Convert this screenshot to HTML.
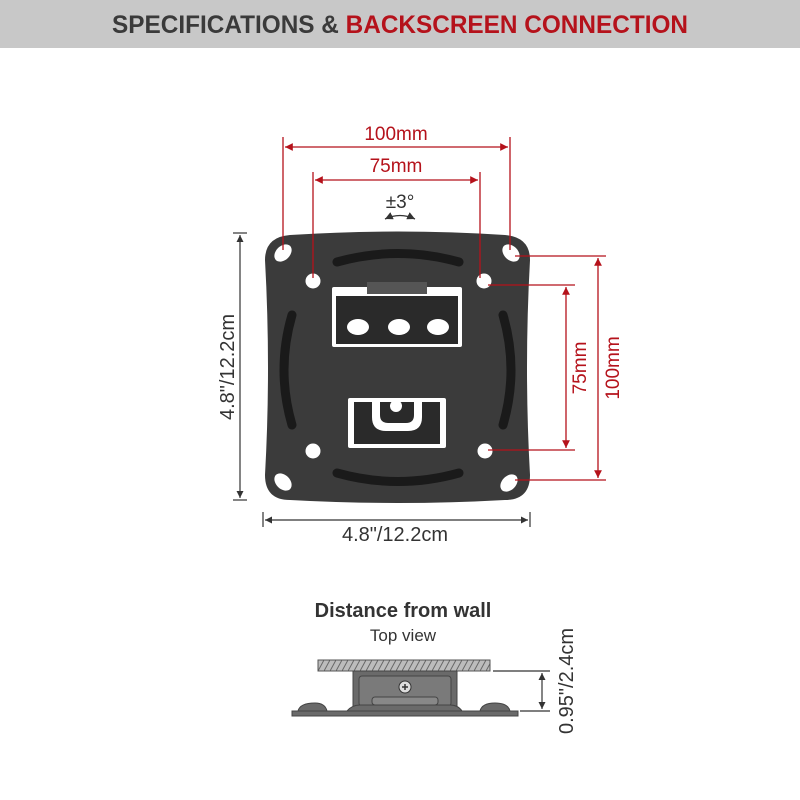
<!DOCTYPE html>
<html><head><style>
body{margin:0;background:#fff}
svg{display:block;font-family:"Liberation Sans",sans-serif}
</style></head><body>
<svg width="800" height="800" viewBox="0 0 800 800">
<defs>
<pattern id="h" width="6" height="11" patternUnits="userSpaceOnUse"><rect width="6" height="11" fill="#bcbcbc"/><line x1="0" y1="11" x2="6" y2="0" stroke="#666" stroke-width="1"/></pattern>
<marker id="ar" viewBox="0 0 10 10" refX="10" refY="5" markerWidth="6" markerHeight="6" orient="auto-start-reverse"><path d="M0,0L10,5L0,10z" fill="#b5121b"/></marker>
<marker id="ak" viewBox="0 0 10 10" refX="10" refY="5" markerWidth="6" markerHeight="6" orient="auto-start-reverse"><path d="M0,0L10,5L0,10z" fill="#333"/></marker>
</defs>
<rect x="0" y="0" width="800" height="48" fill="#c8c8c8"/>
<text x="112" y="33" font-size="25" font-weight="bold" fill="#3a3a3a" textLength="576" lengthAdjust="spacingAndGlyphs">SPECIFICATIONS &amp; <tspan fill="#b5121b">BACKSCREEN CONNECTION</tspan></text>

<!-- plate -->
<path d="M290,235 Q398,228 505,235 Q530,237 530,260 Q524,368 530,475 Q530,500 505,500 Q398,506 290,500 Q265,500 265,475 Q271,368 265,260 Q265,237 290,235z" fill="#3b3b3b"/>
<g fill="#fff">
<ellipse cx="283" cy="253" rx="10" ry="7" transform="rotate(-45 283 253)"/>
<ellipse cx="511" cy="253" rx="10" ry="7" transform="rotate(45 511 253)"/>
<ellipse cx="283" cy="482" rx="10" ry="7" transform="rotate(45 283 482)"/>
<ellipse cx="509" cy="483" rx="10" ry="7" transform="rotate(-45 509 483)"/>
<circle cx="313" cy="281" r="7.5"/><circle cx="484" cy="281" r="7.5"/>
<circle cx="313" cy="451" r="7.5"/><circle cx="485" cy="451" r="7.5"/>
<rect x="332" y="287" width="130" height="60" rx="2"/>
<rect x="348" y="398" width="98" height="50" rx="2"/>
</g>
<rect x="336" y="296" width="122" height="48" fill="#2a2a2a"/>
<rect x="367" y="282" width="60" height="12" fill="#555"/>
<g fill="#fff"><ellipse cx="358" cy="327" rx="11" ry="8"/><ellipse cx="399" cy="327" rx="11" ry="8"/><ellipse cx="438" cy="327" rx="11" ry="8"/></g>
<rect x="354" y="402" width="86" height="42" fill="#2a2a2a"/>
<path d="M372,402 v15 q0,14 14,14 h22 q14,0 14,-14 v-15 h-8 v13 q0,8 -8,8 h-18 q-8,0 -8,-8 v-13z" fill="#fff"/>
<circle cx="396" cy="406" r="6" fill="#fff"/>
<g fill="none" stroke="#1a1a1a" stroke-width="9" stroke-linecap="round">
<path d="M337,262 Q398,245 459,262"/>
<path d="M337,473 Q398,490 459,473"/>
<path d="M292,315 Q276,370 292,425"/>
<path d="M503,315 Q519,370 503,425"/>
</g>

<!-- red dims -->
<g stroke="#b5121b" stroke-width="1.3" fill="none">
<line x1="283" y1="137" x2="283" y2="250"/><line x1="510" y1="137" x2="510" y2="250"/>
<line x1="285" y1="147" x2="508" y2="147" marker-start="url(#ar)" marker-end="url(#ar)"/>
<line x1="313" y1="172" x2="313" y2="278"/><line x1="480" y1="172" x2="480" y2="278"/>
<line x1="315" y1="180" x2="478" y2="180" marker-start="url(#ar)" marker-end="url(#ar)"/>
<line x1="515" y1="256" x2="606" y2="256"/><line x1="515" y1="480" x2="606" y2="480"/>
<line x1="598" y1="258" x2="598" y2="478" marker-start="url(#ar)" marker-end="url(#ar)"/>
<line x1="488" y1="285" x2="575" y2="285"/><line x1="488" y1="450" x2="575" y2="450"/>
<line x1="566" y1="287" x2="566" y2="448" marker-start="url(#ar)" marker-end="url(#ar)"/>
</g>
<g fill="#b5121b" font-size="19" text-anchor="middle">
<text x="396" y="140">100mm</text>
<text x="396" y="172">75mm</text>
<text transform="translate(619,368) rotate(-90)">100mm</text>
<text transform="translate(586,368) rotate(-90)">75mm</text>
</g>
<text x="400" y="208" text-anchor="middle" font-size="19" fill="#333">±3°</text>
<path d="M385,219 Q400,212 415,219" fill="none" stroke="#333" stroke-width="1.3" marker-start="url(#ak)" marker-end="url(#ak)"/>

<!-- black dims -->
<g stroke="#333" stroke-width="1.2" fill="none">
<line x1="233" y1="233" x2="247" y2="233"/><line x1="233" y1="500" x2="247" y2="500"/>
<line x1="240" y1="235" x2="240" y2="498" marker-start="url(#ak)" marker-end="url(#ak)"/>
<line x1="263" y1="512" x2="263" y2="527"/><line x1="530" y1="512" x2="530" y2="527"/>
<line x1="265" y1="520" x2="528" y2="520" marker-start="url(#ak)" marker-end="url(#ak)"/>
</g>
<g fill="#333" font-size="20" text-anchor="middle">
<text transform="translate(234,367) rotate(-90)">4.8"/12.2cm</text>
<text x="395" y="541">4.8"/12.2cm</text>
</g>

<!-- bottom -->
<text x="403" y="617" text-anchor="middle" font-size="20" font-weight="bold" fill="#333">Distance from wall</text>
<text x="403" y="641" text-anchor="middle" font-size="17" fill="#333">Top view</text>
<rect x="318" y="660" width="172" height="11" fill="url(#h)" stroke="#555" stroke-width="1"/>
<rect x="353" y="671" width="104" height="40" fill="#6a6a6a" stroke="#444"/>
<rect x="359" y="676" width="92" height="30" rx="3" fill="#7a7a7a" stroke="#444"/>
<circle cx="405" cy="687" r="6" fill="#ddd" stroke="#333"/>
<path d="M402,687h6M405,684v6" stroke="#333" stroke-width="1.5"/>
<rect x="372" y="697" width="66" height="8" rx="3" fill="#888" stroke="#444"/>
<path d="M298,711 Q300,703 315,703 Q325,703 327,711z M480,711 Q482,703 495,703 Q508,703 510,711z M347,711 Q352,705 360,705 H450 Q458,705 462,711z" fill="#6a6a6a" stroke="#444"/>
<rect x="292" y="711" width="226" height="5" fill="#6a6a6a" stroke="#444"/>
<g stroke="#333" stroke-width="1.2" fill="none">
<line x1="493" y1="671" x2="550" y2="671"/><line x1="520" y1="711" x2="550" y2="711"/>
<line x1="542" y1="673" x2="542" y2="709" marker-start="url(#ak)" marker-end="url(#ak)"/>
</g>
<text transform="translate(573,681) rotate(-90)" text-anchor="middle" font-size="20" fill="#333">0.95"/2.4cm</text>
</svg>
</body></html>
